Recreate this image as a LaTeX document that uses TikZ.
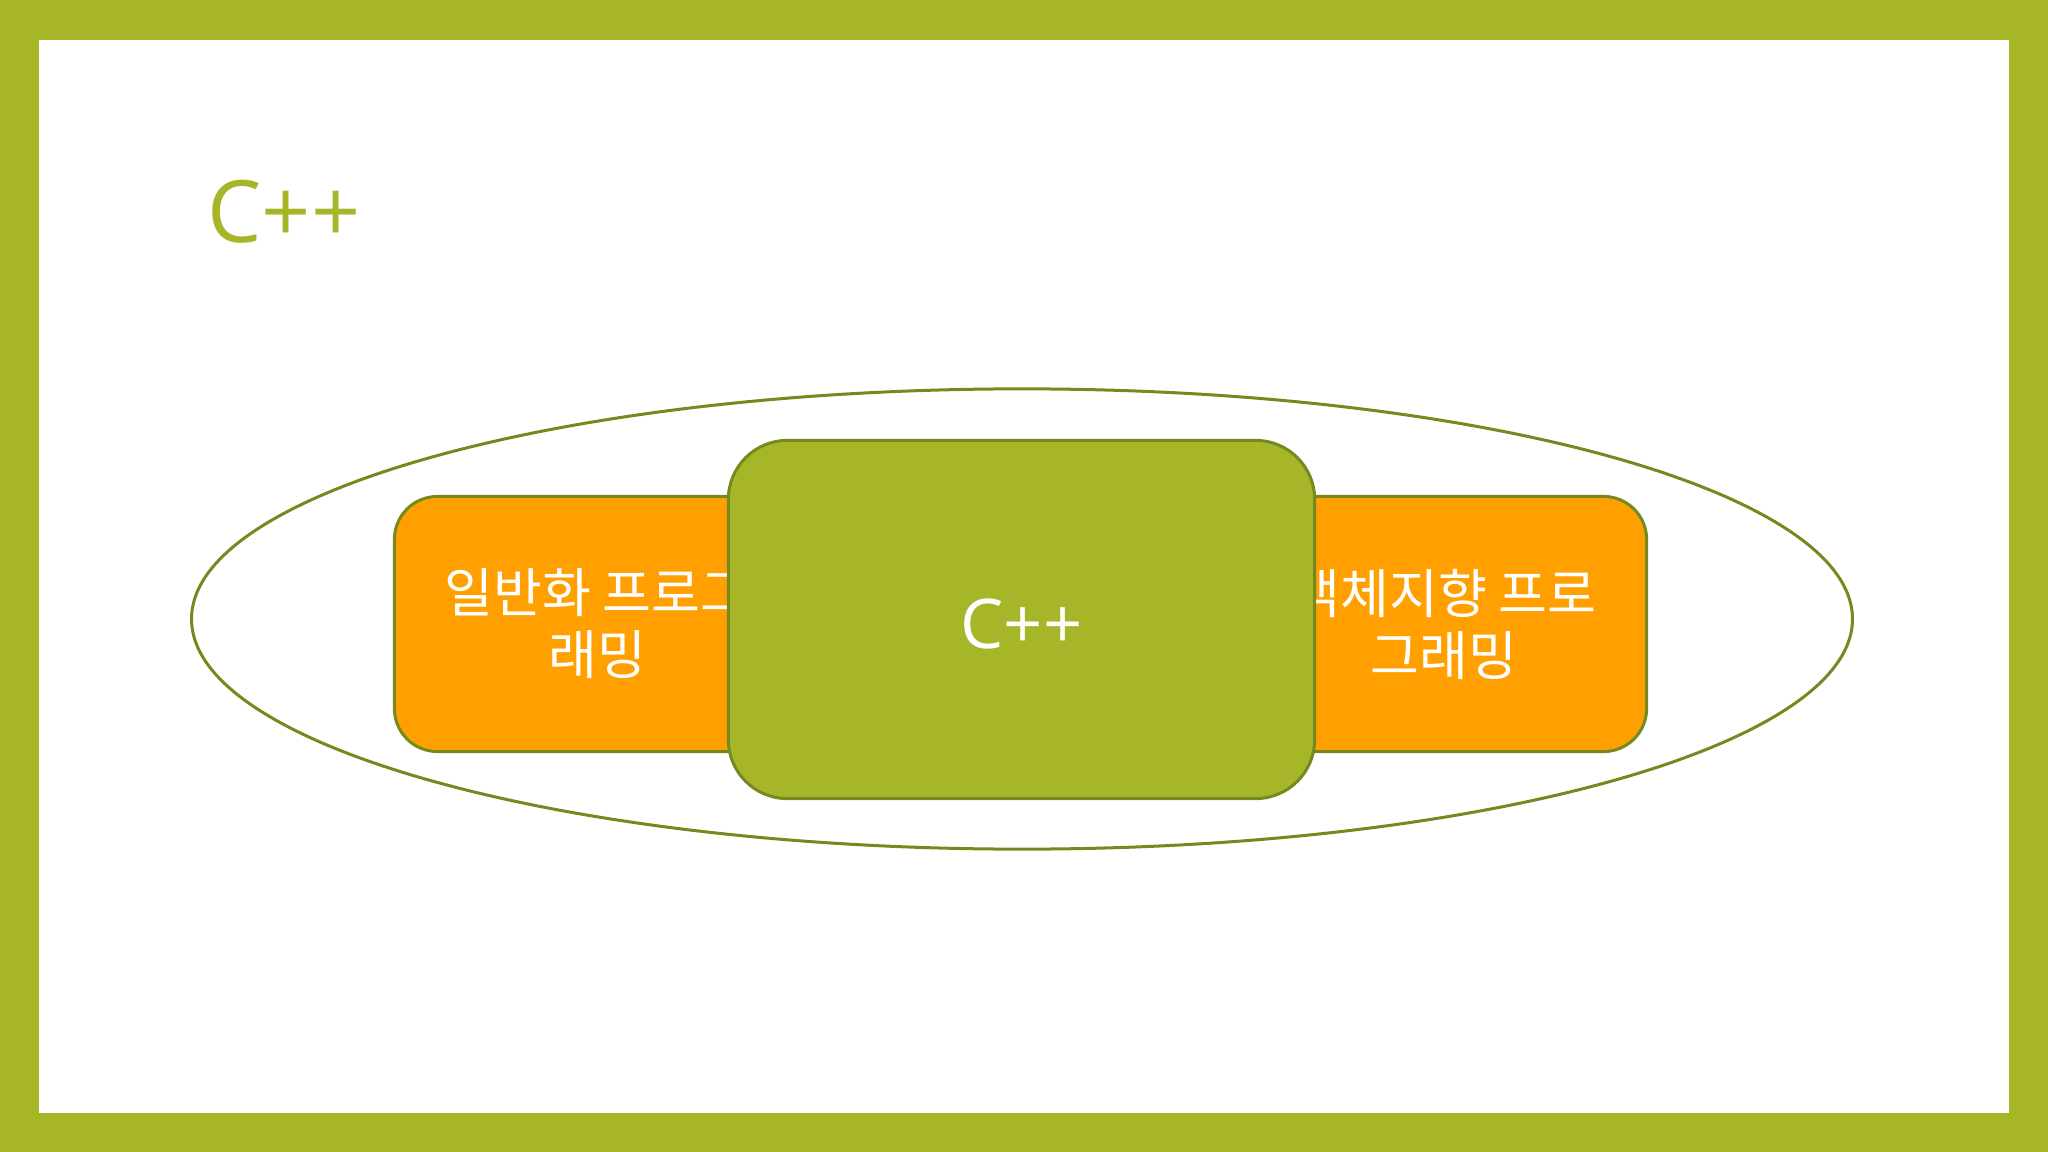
\documentclass[tikz,border=0pt]{standalone}
\usepackage{fontspec}
\usetikzlibrary{shapes.geometric}
\setmainfont{Open Sans}
\newfontfamily\krfont{Noto Sans CJK KR}

\definecolor{slidegreen}{HTML}{A7B629}
\definecolor{olive}{HTML}{76891F}
\definecolor{boxorange}{HTML}{FFA000}

\tikzset{
	sidebox/.style={draw=olive, fill=boxorange, line width=0.03cm, rounded corners=0.43cm,
		minimum width=4.05cm, minimum height=2.55cm, inner sep=0, align=center,
		text=white, font=\krfont\fontsize{15.1}{17.6}\selectfont},
	corebox/.style={draw=olive, fill=slidegreen, line width=0.03cm, rounded corners=0.59cm,
		minimum width=5.86cm, minimum height=3.58cm, inner sep=0,
		text height=0.57cm, text depth=0pt,
		text=white, font=\fontsize{19.5}{23}\selectfont},
}

\begin{document}
\begin{tikzpicture}[x=0.01cm, y=-0.01cm]
	\useasboundingbox (0,0) rectangle (2048,1152);
	% frame
	\fill[slidegreen] (0,0) rectangle (2048,1152);
	\fill[white] (39,40) rectangle (2009,1113);
	
	\node[anchor=base west, text=slidegreen, font=\fontsize{24.5}{30}\selectfont] (title) at (195,243) {C++};
	
	\node[ellipse, draw=olive, line width=0.03cm, minimum width=16.6cm, minimum height=4.6cm, inner sep=0] (scope) at (1022,619) {};
	
	\node[sidebox] (generic) at (597,624) {일반화 프로그\\래밍};
	\node[sidebox] (oop) at (1444,624) {객체지향 프로\\그래밍};
	
	\node[corebox] (core) at (1021.5,619.5) {C++};
\end{tikzpicture}
\end{document}
